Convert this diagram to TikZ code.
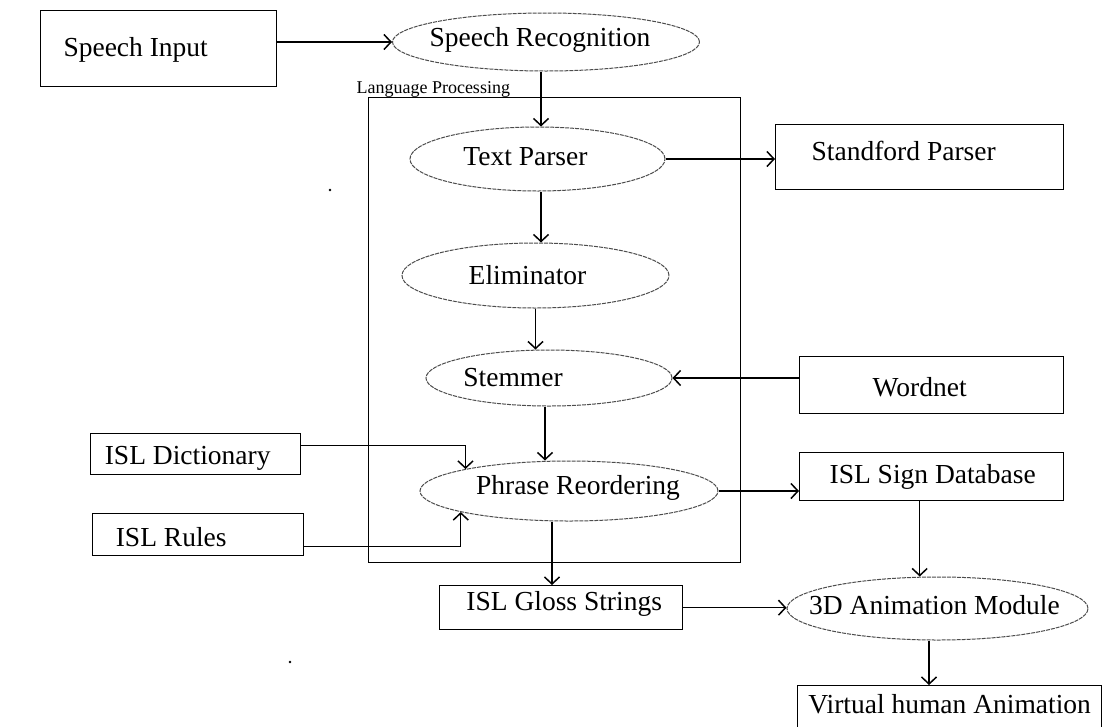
\documentclass[tikz,border=0pt]{standalone}
\usepackage{fontspec}
\setmainfont{Liberation Serif}
\usetikzlibrary{shapes.geometric,arrows.meta}
\tikzset{
  txt/.style={font=\fontsize{27.5}{30}\selectfont},
  box/.style={draw, line width=1.4pt, rectangle, inner sep=0pt, anchor=north west},
  oval/.style={draw=black!70, line width=1pt, dash pattern=on 4pt off 1pt, ellipse, inner sep=0pt},
  flow/.style={line width=1.4pt, -{Straight Barb[length=7pt,width=15pt,line width=1.5pt]}},
  frame/.style={draw, line width=1.4pt, rectangle, inner sep=0pt, anchor=north west},
}
\begin{document}
\begin{tikzpicture}[x=1pt,y=-1pt]
\clip (0,0) rectangle (1103,726);
\fill[white] (0,0) rectangle (1103,726);

% language processing frame
\node[frame, minimum width=372pt, minimum height=465pt] (lp) at (368,97) {};
\node[anchor=west, font=\fontsize{18}{20}\selectfont] (lplabel) at (353,89) {Language Processing};

% boxes
\node[box, minimum width=236pt, minimum height=76pt,
  label={[txt,shift={(-23,1)}]center:Speech Input}] (sin) at (40,10) {};
\node[box, minimum width=288pt, minimum height=65pt,
  label={[txt,shift={(-16,-6)}]center:Standford Parser}] (stan) at (775,124) {};
\node[box, minimum width=264pt, minimum height=57pt,
  label={[txt,shift={(-12,2)}]center:Wordnet}] (word) at (799,356) {};
\node[box, minimum width=210pt, minimum height=41pt,
  label={[txt,shift={(-8,4)}]center:ISL Dictionary}] (dict) at (90,433) {};
\node[box, minimum width=211pt, minimum height=42pt,
  label={[txt,shift={(-27,2)}]center:ISL Rules}] (rules) at (92,513) {};
\node[box, minimum width=264pt, minimum height=48pt,
  label={[txt,shift={(1,0)}]center:ISL Sign Database}] (sign) at (799,452) {};
\node[box, minimum width=243pt, minimum height=44pt,
  label={[txt,shift={(3,-4)}]center:ISL Gloss Strings}] (gloss) at (439,585) {};
\node[box, minimum width=304pt, minimum height=60pt,
  label={[txt,shift={(0,-12)}]center:Virtual human Animation}] (virt) at (797,685) {};

% ellipses
\node[oval, minimum width=307pt, minimum height=58pt,
  label={[txt,shift={(-6,-2)}]center:Speech Recognition}] (srec) at (546,42) {};
\node[oval, minimum width=255pt, minimum height=64pt,
  label={[txt,shift={(-12,-2)}]center:Text Parser}] (tp) at (537.5,159) {};
\node[oval, minimum width=267pt, minimum height=65pt,
  label={[txt,shift={(-8,0)}]center:Eliminator}] (elim) at (535.5,275.5) {};
\node[oval, minimum width=246pt, minimum height=56pt,
  label={[txt,shift={(-36,0)}]center:Stemmer}] (stem) at (549,378) {};
\node[oval, minimum width=298pt, minimum height=60pt,
  label={[txt,shift={(9,-3)}]center:Phrase Reordering}] (phr) at (569,491) {};
\node[oval, minimum width=301pt, minimum height=63pt,
  label={[txt,shift={(-3,-3)}]center:3D Animation Module}] (anim) at (937.5,608.5) {};

% connectors
\draw[flow] (sin.east |- srec.west) -- (srec.west);
\draw[flow] ([xshift=-5pt]srec.south) -- ([xshift=-5pt]srec.south |- tp.north);
\draw[flow] (tp.east) -- (tp.east -| stan.west);
\draw[flow] ([xshift=3.5pt]tp.south) -- ([xshift=3.5pt]tp.south |- elim.north);
\draw[flow] (elim.south) -- (elim.south |- stem.north);
\draw[flow] (word.west |- stem.east) -- (stem.east);
\draw[flow] ([xshift=-4pt]stem.south) -- ([xshift=-4pt]stem.south |- phr.north);
\draw[flow] ([yshift=8.5pt]dict.east) -| (phr.168);
\draw[flow] ([yshift=-12pt]rules.east) -| (phr.191);
\draw[flow] (phr.east) -- (phr.east -| sign.west);
\draw[flow] ([xshift=-17pt]phr.south) -- ([xshift=-17pt]phr.south |- gloss.north);
\draw[flow] ([xshift=-12pt]sign.south) -- ([xshift=-12pt]sign.south |- anim.north);
\draw[flow] (gloss.east) -- (gloss.east -| anim.west);
\draw[flow] ([xshift=-8.5pt]anim.south) -- ([xshift=-8.5pt]anim.south |- virt.north);

% stray dots
\fill (330,190) circle (1.4);
\fill (290,662) circle (1.4);
\end{tikzpicture}
\end{document}
